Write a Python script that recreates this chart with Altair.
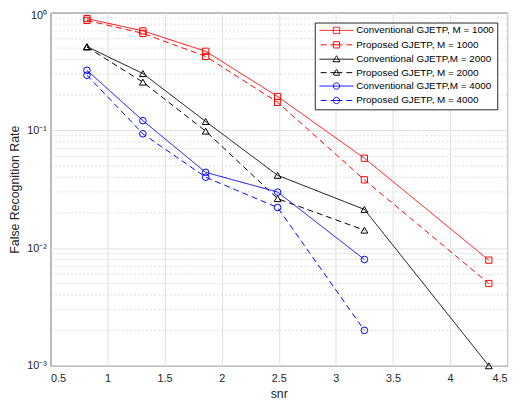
import altair as alt
import pandas as pd

# ---- data ----
snr = [0.82, 1.31, 1.86, 2.49, 3.25, 4.34]
conv_1000 = [0.89, 0.70, 0.47, 0.194, 0.058, 0.0079]
prop_1000 = [0.86, 0.667, 0.425, 0.173, 0.038, 0.005]
conv_2000 = [0.515, 0.304, 0.119, 0.0415, 0.0213, 0.001]
prop_2000 = [0.51, 0.257, 0.0985, 0.0263, 0.0142]
conv_4000 = [0.324, 0.121, 0.044, 0.0299, 0.008]
prop_4000 = [0.294, 0.0935, 0.040, 0.0221, 0.002]

series_names = [
    "Conventional GJETP, M = 1000",
    "Proposed GJETP, M = 1000",
    "Conventional GJETP,M = 2000",
    "Proposed GJETP, M = 2000",
    "Conventional GJETP,M = 4000",
    "Proposed GJETP, M = 4000",
]
series_values = [conv_1000, prop_1000, conv_2000, prop_2000, conv_4000, prop_4000]
series_marker = ["square", "square", "triangle-up", "triangle-up", "circle", "circle"]

x_ticks = [0.5, 1, 1.5, 2, 2.5, 3, 3.5, 4, 4.5]
y_ticks = [0.001, 0.01, 0.1, 1]
y_tick_labels = ["10⁻³", "10⁻²", "10⁻¹", "10⁰"]
y_minor = [m * d for d in (0.001, 0.01, 0.1) for m in range(2, 10)]

# ---- styles ----
colors = ["#ff0000", "#ff0000", "#000000", "#000000", "#0000ff", "#0000ff"]
dashes = [[1, 0], [6, 4], [1, 0], [6, 4], [1, 0], [6, 4]]
marker_sizes = {"square": 40, "triangle-up": 48, "circle": 45}

L = 5.4
line_part = f"M0,0L{-L},0M0,0L{L},0"
sq = "M-1,-1L1,-1M1,-1L1,1M1,1L-1,1M-1,1L-1,-1"
tri = "M0,-1.1L1.1,0.8M1.1,0.8L-1.1,0.8M-1.1,0.8L0,-1.1"
circ = "M1,0A1,1 0 0,1 0,1M0,1A1,1 0 0,1 -1,0M-1,0A1,1 0 0,1 0,-1M0,-1A1,1 0 0,1 1,0"
marker_path = {"square": sq, "triangle-up": tri, "circle": circ}
legend_shapes = [line_part + marker_path[m] for m in series_marker]

rows = []
for name, vals, mk in zip(series_names, series_values, series_marker):
    for i, v in enumerate(vals):
        rows.append({"series": name, "snr": snr[i], "rate": v, "i": i, "marker": mk})
df = pd.DataFrame(rows)
minor_df = pd.DataFrame({"v": y_minor})

FONT = "Liberation Sans"
TXT = "#262626"

label_expr = ""
for val, lab in zip(y_ticks[:-1], y_tick_labels[:-1]):
    label_expr += f"datum.value < {val * 3} ? '{lab}' : "
label_expr += f"'{y_tick_labels[-1]}'"

x_scale = alt.Scale(domain=[0.5, 4.5], nice=False, zero=False)
y_scale = alt.Scale(type="log", domain=[0.001, 1], nice=False)

x_enc = alt.X("snr:Q", scale=x_scale, title="snr",
              axis=alt.Axis(values=x_ticks, format="~g", grid=True, ticks=False,
                            tickSize=0, labelPadding=7, titlePadding=4, domain=False))
y_enc = alt.Y("rate:Q", scale=y_scale, title="False Recognition Rate",
              axis=alt.Axis(values=y_ticks, labelExpr=label_expr, grid=True, ticks=False,
                            tickSize=0, labelPadding=4, titlePadding=5, domain=False,
                            labelBaseline={"condition": {"test": "datum.value >= 0.5", "value": "top"},
                                           "value": "middle"},
                            labelOffset={"condition": {"test": "datum.value >= 0.5", "value": -3},
                                         "value": 0}))

color_scale = alt.Scale(domain=series_names, range=colors)
dash_scale = alt.Scale(domain=series_names, range=dashes)
leg = alt.Legend(title=None)

grid_minor = alt.Chart(minor_df).mark_rule(
    color="#dcdcdc", strokeWidth=1, strokeDash=[2, 2]
).encode(y=alt.Y("v:Q", scale=y_scale))

lines = alt.Chart(df).mark_line(strokeWidth=1, clip=True).encode(
    x=x_enc, y=y_enc,
    color=alt.Color("series:N", scale=color_scale, legend=leg),
    strokeDash=alt.StrokeDash("series:N", scale=dash_scale, legend=leg),
    order="i:Q",
)

point_layers = []
for mk in ["square", "triangle-up", "circle"]:
    point_layers.append(
        alt.Chart(df).transform_filter(alt.datum.marker == mk).mark_point(
            filled=False, size=marker_sizes[mk], strokeWidth=1, opacity=1, shape=mk
        ).encode(
            x=x_enc, y=y_enc,
            color=alt.Color("series:N", scale=color_scale, legend=leg),
        )
    )

legend_layer = alt.Chart(df).mark_point(filled=False, size=41, strokeWidth=1, opacity=1).encode(
    x=x_enc, y=y_enc,
    color=alt.Color("series:N", scale=color_scale, legend=leg),
    strokeDash=alt.StrokeDash("series:N", scale=dash_scale, legend=leg),
    shape=alt.Shape("series:N", scale=alt.Scale(domain=series_names, range=legend_shapes),
                    legend=leg),
).transform_filter("false")

chart = alt.layer(grid_minor, lines, *point_layers, legend_layer).properties(
    width=463, height=358,
    autosize=alt.AutoSizeParams(type="none"),
    padding={"left": 43, "top": 2, "right": 8, "bottom": 36},
).configure_view(
    stroke=TXT, strokeWidth=1
).configure_axis(
    labelFont=FONT, labelFontSize=11, labelColor=TXT,
    titleFont=FONT, titleFontSize=12.5, titleColor=TXT, titleFontWeight="normal",
    gridColor="#dfdfdf", gridWidth=1,
).configure_legend(
    orient="top-right", offset=10, padding=3, rowPadding=2.6,
    labelFont=FONT, labelFontSize=10, labelColor="#000000",
    symbolSize=41, symbolStrokeWidth=1, symbolOffset=14, labelOffset=15,
    strokeColor=TXT, fillColor="white", cornerRadius=0,
)

chart.save("out.html", embed_options={"renderer": "svg", "actions": False})
